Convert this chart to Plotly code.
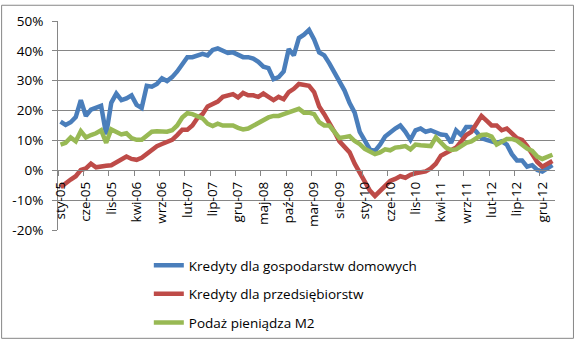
import plotly.graph_objects as go

# Months Jan 2005 – Feb 2013 (Polish abbreviations)
month_abbr = ['sty', 'lut', 'mar', 'kwi', 'maj', 'cze', 'lip', 'sie', 'wrz', 'paź', 'lis', 'gru']
months = [f"{month_abbr[m]}-{y % 100:02d}" for y in range(2005, 2014) for m in range(12)][:98]

households = [16.3, 15.2, 16.1, 17.8, 23.5, 18.2, 20.3, 20.9, 21.6, 12.0,
              22.6, 25.7, 23.5, 24.1, 25.1, 21.9, 20.9, 28.3, 28.0, 28.9,
              30.8, 29.9, 31.2, 33.1, 35.8, 37.9, 37.9, 38.6, 39.0, 38.5,
              40.3, 40.8, 40.1, 39.3, 39.5, 38.5, 37.9, 37.9, 37.4, 36.3,
              34.7, 34.2, 30.5, 31.2, 33.1, 40.6, 38.5, 44.3, 45.4, 47.0,
              43.8, 39.5, 38.5, 35.8, 32.6, 29.4, 26.7, 22.5, 19.3, 12.9,
              9.7, 7.0, 6.5, 8.6, 11.3, 12.9, 14.0, 15.0, 12.9, 10.2,
              13.4, 14.0, 12.9, 13.4, 12.7, 12.0, 11.8, 9.2, 13.4, 11.8,
              14.5, 14.5, 12.9, 10.8, 10.2, 9.8, 9.2, 9.7, 8.6, 5.4,
              3.3, 3.3, 1.2, 1.7, 0.1, -0.4, 0.6, 1.7]

enterprises = [-5.7, -4.2, -3.1, -2.0, 0.1, 0.6, 2.2, 1.0, 1.4, 1.5,
               1.7, 2.8, 3.5, 4.6, 3.8, 3.5, 4.2, 5.4, 6.8, 8.1,
               8.8, 9.5, 10.2, 11.8, 13.6, 13.6, 15.0, 17.5, 18.8, 21.4,
               22.3, 23.0, 24.6, 25.1, 25.5, 24.4, 25.9, 25.1, 25.1, 24.6,
               25.7, 24.6, 23.5, 24.6, 23.8, 26.2, 27.3, 28.9, 28.7, 28.3,
               26.2, 21.4, 18.8, 16.1, 12.9, 9.7, 7.6, 6.0, 2.2, -1.0,
               -3.6, -6.8, -8.6, -6.8, -5.2, -3.6, -2.9, -2.0, -2.5, -1.5,
               -1.0, -0.7, -0.4, 0.6, 2.2, 4.9, 5.8, 6.3, 7.6, 9.7,
               11.8, 12.9, 15.6, 18.2, 16.6, 15.0, 15.0, 13.4, 14.0, 12.4,
               10.8, 10.2, 8.1, 5.4, 2.8, 1.2, 2.2, 3.1]

m2 = [8.6, 9.2, 11.0, 9.7, 13.1, 11.0, 11.8, 12.4, 13.4, 9.2,
      13.7, 12.9, 12.0, 12.4, 10.8, 10.2, 10.2, 11.6, 12.9, 13.1,
      13.1, 12.9, 13.4, 15.0, 17.7, 19.1, 18.8, 18.2, 17.4, 15.6,
      14.8, 15.6, 15.0, 15.0, 15.0, 14.2, 13.7, 14.0, 15.0, 16.1,
      16.9, 17.7, 18.2, 18.2, 18.8, 19.3, 19.8, 20.6, 19.3, 19.3,
      18.8, 16.1, 15.0, 15.0, 12.9, 10.8, 11.1, 11.4, 9.8, 8.8,
      7.2, 6.2, 5.4, 6.0, 7.0, 6.7, 7.6, 7.8, 8.1, 7.0,
      8.6, 8.4, 8.1, 8.1, 11.0, 9.2, 7.6, 6.8, 7.0, 8.1,
      9.2, 9.7, 10.8, 11.8, 12.0, 11.3, 8.6, 9.7, 10.5, 10.5,
      9.9, 8.6, 7.3, 6.5, 4.6, 3.8, 4.6, 5.2]

series_names = ['Kredyty dla gospodarstw domowych', 'Kredyty dla przedsiębiorstw', 'Podaż pieniądza M2']
series_values = [households, enterprises, m2]
series_colors = ['#4A7EBB', '#BE4B48', '#98B954']

y_tick_vals = [-0.2, -0.1, 0.0, 0.1, 0.2, 0.3, 0.4, 0.5]
y_tick_text = ['-20%', '-10%', '0%', '10%', '20%', '30%', '40%', '50%']

label_step = 5
x_idx = list(range(len(months)))
x_tick_vals = x_idx[::label_step]
x_tick_text = months[::label_step]

FONT = 'Open Sans'
FS = 13.5
GRID = '#868686'

fig = go.Figure()
for i, (name, vals, col) in enumerate(zip(series_names, series_values, series_colors)):
    fig.add_trace(go.Scatter(
        x=x_idx, y=[v / 100 for v in vals], name=name, mode='lines',
        line=dict(color=col, width=4.5), legendgroup=f'g{i}',
        hoverinfo='skip'))

W, H = 574, 350
L, R, T, B = 57, 19, 17, 114
pw, ph = W - L - R, H - T - B
ymin, ymax = -0.2, 0.5

fig.update_layout(
    width=W, height=H,
    margin=dict(l=L, r=R, t=T, b=B, pad=0),
    paper_bgcolor='white', plot_bgcolor='white',
    font=dict(family=FONT, size=FS, color='black'),
    showlegend=True,
    legend=dict(x=(148 - L) / pw, y=(T + ph - 257) / ph, xanchor='left', yanchor='top',
                traceorder='grouped', tracegroupgap=8,
                font=dict(family=FONT, size=FS, color='black'),
                bgcolor='rgba(0,0,0,0)', itemwidth=30),
    xaxis=dict(range=[-0.5, len(months) - 0.5], anchor='free',
               position=(0 - ymin) / (ymax - ymin),
               showgrid=False, zeroline=False,
               showline=True, linecolor=GRID, linewidth=1,
               tickmode='array', tickvals=x_tick_vals, ticktext=x_tick_text,
               tickangle=-90, ticks='', ticklabelstandoff=5,
               tickfont=dict(family=FONT, size=FS, color='black'),
               minor=dict(tickmode='linear', tick0=-0.5, dtick=label_step,
                          ticks='outside', ticklen=5, tickcolor=GRID, tickwidth=1,
                          showgrid=False)),
    yaxis=dict(range=[ymin, ymax], tickmode='array', tickvals=y_tick_vals, ticktext=y_tick_text,
               showgrid=True, gridcolor=GRID, gridwidth=1, zeroline=False,
               showline=True, linecolor=GRID, linewidth=1,
               ticks='outside', ticklen=5, tickcolor=GRID,
               tickfont=dict(family=FONT, size=FS, color='black'),
               ticklabelstandoff=6),
    shapes=[dict(type='rect', xref='paper', yref='paper',
                 x0=(0.5 - L) / pw, x1=(W - 0.5 - L) / pw,
                 y0=(T + ph - (H - 0.5)) / ph, y1=(T + ph - 0.5) / ph,
                 line=dict(color=GRID, width=1), fillcolor='rgba(0,0,0,0)', layer='below')],
)

fig.write_html('out.html')
